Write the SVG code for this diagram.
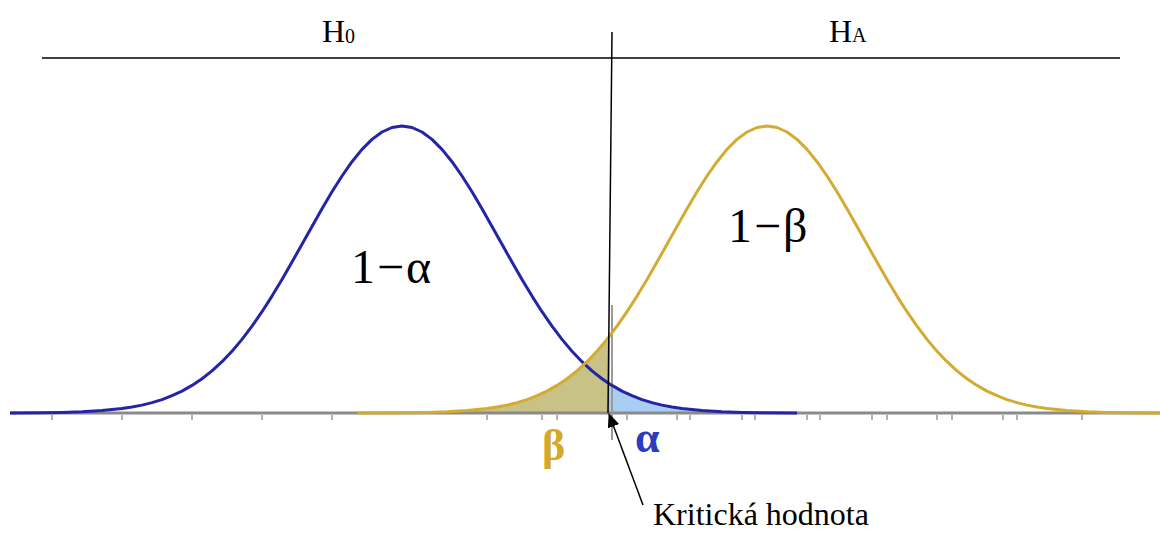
<svg xmlns="http://www.w3.org/2000/svg" width="1160" height="536" viewBox="0 0 1160 536">
<defs>
<style>
.lbl{font-family:"Liberation Serif","Times New Roman",serif;fill:#000}
.greek{font-family:"Liberation Serif","Times New Roman",serif;font-weight:bold}
.tick{stroke:#999;stroke-width:1.5}
</style>
<marker id="arrow" markerWidth="14" markerHeight="12" refX="13" refY="6" orient="auto" markerUnits="userSpaceOnUse">
<path d="M0,0 L14,6 L0,12 Z" fill="#000"/>
</marker>
</defs>
<rect width="1160" height="536" fill="#fff"/>

<g id="fills">
<path d="M357,413 L407,412.7 L427,412.4 L447,411.8 L467,410.6 L487,408.5 L497,407 L507,405.1 L517,402.6 L527,399.6 L537,395.7 L547,391.1 L557,385.4 L567,378.7 L577,370.9 L587,361.7 L597,351.2 L607,339.4 L610,335.4 L610,413 Z" fill="#c9c286"/>
<path d="M610,384.2 L612,385.4 L622,391.1 L632,395.7 L642,399.6 L652,402.6 L662,405.1 L672,407 L682,408.5 L702,410.6 L722,411.8 L742,412.4 L762,412.7 L797,413 L610,413 Z" fill="#a9cdf3"/>
</g>

<g id="axis">
<line x1="10" y1="413" x2="1160" y2="413" stroke="#8a8a8a" stroke-width="3"/>
<g id="ticks">
<line class="tick" x1="52" y1="415" x2="52" y2="420"/>
<line class="tick" x1="122" y1="415" x2="122" y2="420"/>
<line class="tick" x1="192" y1="415" x2="192" y2="420"/>
<line class="tick" x1="262" y1="415" x2="262" y2="420"/>
<line class="tick" x1="332" y1="415" x2="332" y2="420"/>
<line class="tick" x1="487" y1="415" x2="487" y2="420"/>
<line class="tick" x1="542" y1="415" x2="542" y2="420"/>
<line class="tick" x1="557" y1="415" x2="557" y2="420"/>
<line class="tick" x1="627" y1="415" x2="627" y2="420"/>
<line class="tick" x1="677" y1="415" x2="677" y2="420"/>
<line class="tick" x1="690" y1="415" x2="690" y2="420"/>
<line class="tick" x1="742" y1="415" x2="742" y2="420"/>
<line class="tick" x1="755" y1="415" x2="755" y2="420"/>
<line class="tick" x1="807" y1="415" x2="807" y2="420"/>
<line class="tick" x1="820" y1="415" x2="820" y2="420"/>
<line class="tick" x1="872" y1="415" x2="872" y2="420"/>
<line class="tick" x1="887" y1="415" x2="887" y2="420"/>
<line class="tick" x1="937" y1="415" x2="937" y2="420"/>
<line class="tick" x1="952" y1="415" x2="952" y2="420"/>
<line class="tick" x1="1003" y1="415" x2="1003" y2="420"/>
<line class="tick" x1="1017" y1="415" x2="1017" y2="420"/>
<line class="tick" x1="1082" y1="415" x2="1082" y2="420"/>
</g>
<line x1="612" y1="305" x2="612" y2="440" stroke="#9a9a9a" stroke-width="2"/>
</g>

<g id="curve-h0">
<polyline fill="none" stroke="#2424a6" stroke-width="3" stroke-linejoin="round" points="10,413 42,412.7 62,412.4 82,411.8 102,410.6 122,408.5 132,407 142,405.1 152,402.6 162,399.6 172,395.7 182,391.1 192,385.4 202,378.7 212,370.9 222,361.7 232,351.2 242,339.4 252,326.2 262,311.7 272,296.1 282,279.5 292,262.1 302,244.3 312,226.4 322,208.7 332,191.8 342,176 352,161.7 362,149.4 372,139.4 382,132 392,127.5 402,126 412,127.5 422,132 432,139.4 442,149.4 452,161.7 462,176 472,191.8 482,208.7 492,226.4 502,244.3 512,262.1 522,279.5 532,296.1 542,311.7 552,326.2 562,339.4 572,351.2 582,361.7 592,370.9 602,378.7 610,384.2 612,385.4 622,391.1 632,395.7 642,399.6 652,402.6 662,405.1 672,407 682,408.5 702,410.6 722,411.8 742,412.4 762,412.7 797,413"/>
</g>

<g id="curve-ha">
<polyline fill="none" stroke="#d3ab32" stroke-width="3" stroke-linejoin="round" points="357,413 407,412.7 427,412.4 447,411.8 467,410.6 487,408.5 497,407 507,405.1 517,402.6 527,399.6 537,395.7 547,391.1 557,385.4 567,378.7 577,370.9 587,361.7 597,351.2 607,339.4 617,326.2 627,311.7 637,296.1 647,279.5 657,262.1 667,244.3 677,226.4 687,208.7 697,191.8 707,176 717,161.7 727,149.4 737,139.4 747,132 757,127.5 767,126 777,127.5 787,132 797,139.4 807,149.4 817,161.7 827,176 837,191.8 847,208.7 857,226.4 867,244.3 877,262.1 887,279.5 897,296.1 907,311.7 917,326.2 927,339.4 937,351.2 947,361.7 957,370.9 967,378.7 977,385.4 987,391.1 997,395.7 1007,399.6 1017,402.6 1027,405.1 1037,407 1047,408.5 1067,410.6 1087,411.8 1107,412.4 1127,412.7 1160,413"/>
</g>

<g id="connectors">
<line x1="42" y1="58" x2="1120" y2="58" stroke="#000" stroke-width="1.5"/>
<line x1="612" y1="32" x2="608" y2="413" stroke="#000" stroke-width="1.5"/>
<line x1="643" y1="505" x2="609" y2="414" stroke="#000" stroke-width="1.5" marker-end="url(#arrow)"/>
</g>

<g id="label-h0"><text class="lbl" x="322" y="42" font-size="32">H<tspan font-size="20" dy="1">0</tspan></text></g>
<g id="label-ha"><text class="lbl" x="829" y="42" font-size="32">H<tspan font-size="20" dy="0">A</tspan></text></g>
<g id="label-1a"><text class="lbl" x="351" y="283" font-size="48" letter-spacing="2">1−α</text></g>
<g id="label-1b"><text class="lbl" x="728" y="242" font-size="48" letter-spacing="2">1−β</text></g>
<g id="label-beta"><text class="greek" x="542" y="460" font-size="44" fill="#d4a82a">β</text></g>
<g id="label-alpha"><text class="greek" x="635" y="452" font-size="44" fill="#2b3cc0">α</text></g>
<g id="label-crit"><text class="lbl" x="653" y="525" font-size="32">Kritická hodnota</text></g>
</svg>
